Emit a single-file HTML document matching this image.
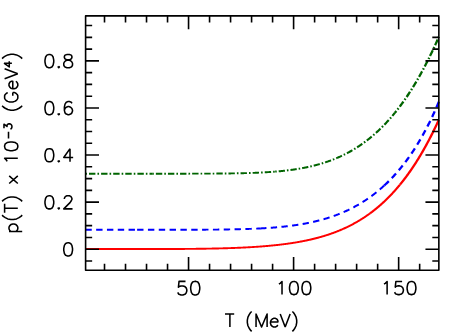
<!DOCTYPE html>
<html><head><meta charset="utf-8"><title>p(T)</title>
<style>html,body{margin:0;padding:0;background:#fff;overflow:hidden;font-family:"Liberation Sans",sans-serif}svg{display:block}</style>
</head><body>
<svg width="463" height="336" viewBox="0 0 463 336" role="img" aria-label="p(T) x 10^-3 (GeV^4) versus T (MeV)">
<title>p(T) x 10^-3 (GeV^4) versus T (MeV)</title>
<desc>Line chart. x axis: T (MeV), ticks 50, 100, 150. y axis: p(T) x 10^-3 (GeV^4), ticks 0, 0.2, 0.4, 0.6, 0.8. Three curves: red solid, blue dashed, green dot-dashed.</desc>
<rect width="463" height="336" fill="#fff"/>
<path d="M85.6 173.7L86.1 173.7L86.6 173.7L87.1 173.7L87.6 173.7L88.1 173.7L88.6 173.7L89.1 173.7L89.6 173.7L90.1 173.7L90.6 173.7L91.1 173.7L91.6 173.7L92.1 173.7L92.6 173.7L93.1 173.7L93.6 173.7L94.1 173.7L94.6 173.7L95.1 173.7L95.6 173.7L96.1 173.7L96.6 173.7L97.1 173.7L97.6 173.7L98.1 173.7L98.6 173.7L99.1 173.7L99.6 173.7L100.1 173.7L100.6 173.7L101.1 173.7L101.6 173.7L102.1 173.7L102.6 173.7L103.1 173.7L103.6 173.7L104.1 173.7L104.6 173.7L105.1 173.7L105.6 173.7L106.1 173.7L106.6 173.7L107.1 173.7L107.6 173.7L108.1 173.7L108.6 173.7L109.1 173.7L109.6 173.7L110.1 173.7L110.6 173.7L111.1 173.7L111.6 173.7L112.1 173.7L112.6 173.7L113.1 173.7L113.6 173.7L114.1 173.7L114.6 173.7L115.1 173.7L115.6 173.7L116.1 173.7L116.6 173.7L117.1 173.7L117.6 173.7L118.1 173.7L118.6 173.7L119.1 173.7L119.6 173.7L120.1 173.7L120.6 173.7L121.1 173.7L121.6 173.7L122.1 173.7L122.6 173.7L123.1 173.7L123.6 173.7L124.1 173.7L124.6 173.7L125.1 173.7L125.6 173.7L126.1 173.7L126.6 173.7L127.1 173.7L127.6 173.7L128.1 173.7L128.6 173.7L129.1 173.7L129.6 173.7L130.1 173.7L130.6 173.7L131.1 173.7L131.6 173.7L132.1 173.7L132.6 173.7L133.1 173.7L133.6 173.7L134.1 173.7L134.6 173.7L135.1 173.7L135.6 173.7L136.1 173.7L136.6 173.7L137.1 173.7L137.6 173.7L138.1 173.7L138.6 173.7L139.1 173.7L139.6 173.7L140.1 173.7L140.6 173.7L141.1 173.7L141.6 173.7L142.1 173.7L142.6 173.7L143.1 173.7L143.6 173.7L144.1 173.7L144.6 173.7L145.1 173.7L145.6 173.7L146.1 173.7L146.6 173.7L147.1 173.7L147.6 173.7L148.1 173.7L148.6 173.7L149.1 173.7L149.6 173.7L150.1 173.7L150.6 173.7L151.1 173.7L151.6 173.7L152.1 173.7L152.25 173.7" fill="none" stroke="#006400" stroke-width="1.90" stroke-dasharray="6.4 2.05 1.6 2.05" stroke-dashoffset="-3.4"/>
<path d="M152.25 173.7L152.6 173.7L153.1 173.7L153.6 173.7L154.1 173.7L154.6 173.7L155.1 173.7L155.6 173.7L156.1 173.7L156.6 173.7L157.1 173.7L157.6 173.7L158.1 173.7L158.6 173.7L159.1 173.7L159.6 173.7L160.1 173.7L160.6 173.7L161.1 173.7L161.6 173.7L162.1 173.7L162.6 173.7L163.1 173.7L163.6 173.7L164.1 173.7L164.6 173.7L165.1 173.7L165.6 173.7L166.1 173.7L166.6 173.69L167.1 173.69L167.6 173.69L168.1 173.69L168.6 173.69L169.1 173.69L169.6 173.69L170.1 173.69L170.6 173.69L171.1 173.69L171.6 173.69L172.1 173.69L172.6 173.69L173.1 173.69L173.6 173.69L174.1 173.69L174.6 173.69L175.1 173.69L175.6 173.69L176.1 173.69L176.6 173.69L177.1 173.69L177.6 173.69L178.1 173.69L178.6 173.69L179.1 173.69L179.6 173.69L180.1 173.69L180.6 173.69L181.1 173.69L181.6 173.68L182.1 173.68L182.6 173.68L183.1 173.68L183.6 173.68L184.1 173.68L184.6 173.68L185.1 173.68L185.6 173.68L186.1 173.68L186.6 173.68L187.1 173.68L187.6 173.68L188.1 173.68L188.6 173.68L189.1 173.68L189.6 173.67L190.1 173.67L190.6 173.67L191.1 173.67L191.6 173.67L192.1 173.67L192.6 173.67L193.1 173.67L193.6 173.67L194.1 173.67L194.6 173.66L195.1 173.66L195.6 173.66L196.1 173.66L196.6 173.66L197.1 173.66L197.6 173.66L198.1 173.66L198.6 173.66L199.1 173.65L199.6 173.65L200.1 173.65L200.6 173.65L201.1 173.65L201.6 173.65L202.1 173.64L202.6 173.64L203.1 173.64L203.6 173.64L204.1 173.64L204.6 173.64L205.1 173.63L205.6 173.63L206.1 173.63L206.6 173.63L207.1 173.63L207.6 173.62L208.1 173.62L208.6 173.62L209.1 173.62L209.6 173.61L210.1 173.61L210.6 173.61L211.1 173.61L211.6 173.6L212.1 173.6L212.6 173.6L213.1 173.6L213.6 173.59L214.1 173.59L214.6 173.59L215.1 173.58L215.6 173.58L216.1 173.58L216.6 173.57L217.1 173.57L217.6 173.56L218.1 173.56L218.6 173.56L219.1 173.55L219.6 173.55L220.1 173.54L220.6 173.54L221.1 173.54L221.6 173.53L222.1 173.53L222.6 173.52L223.1 173.52L223.6 173.51L224.1 173.51L224.6 173.5L225.1 173.5L225.6 173.49L226.1 173.49L226.6 173.48L227.1 173.47L227.6 173.47L228.1 173.46L228.6 173.45L229.1 173.45L229.6 173.44L230.1 173.43L230.6 173.43L231.1 173.42L231.6 173.41L232.1 173.41L232.6 173.4L233.1 173.39L233.6 173.38L234.1 173.37L234.6 173.37L235.1 173.36L235.6 173.35L236.1 173.34L236.6 173.33L237.1 173.32L237.6 173.31L238.1 173.3L238.6 173.29L239.1 173.28L239.6 173.27L240.1 173.26L240.6 173.25L241.1 173.24L241.6 173.23L242.1 173.21L242.6 173.2L243.1 173.19L243.6 173.18L244.1 173.16L244.6 173.15L245.1 173.14L245.6 173.12L246.1 173.11L246.6 173.1L247.1 173.08L247.6 173.07L248.1 173.05L248.6 173.04L249.1 173.02L249.6 173L250.1 172.99L250.6 172.97L251.1 172.95L251.6 172.94L252.1 172.92L252.6 172.9L253.1 172.88L253.6 172.86L254.1 172.85L254.6 172.83L255.1 172.81L255.6 172.79L256.1 172.77L256.6 172.74L257.1 172.72L257.6 172.7L258.1 172.68L258.6 172.66L259.1 172.63L259.6 172.61L260.1 172.58L260.6 172.56L261.1 172.54L261.6 172.51L262.1 172.48L262.6 172.46L263.1 172.43L263.6 172.4L264.1 172.38L264.6 172.35L265.1 172.32L265.6 172.29L266.1 172.26L266.6 172.23L267.1 172.2L267.6 172.17L268.1 172.13L268.6 172.1L269.1 172.07L269.6 172.03L270.1 172L270.6 171.96L271.1 171.93L271.6 171.89L272.1 171.86L272.6 171.82L273.1 171.78L273.6 171.74L274.1 171.7L274.6 171.66L275.1 171.62L275.2 171.61" fill="none" stroke="#006400" stroke-width="1.90" stroke-dasharray="1.6 2.05 6.4 2.05" stroke-dashoffset="0.05"/>
<path d="M275.2 171.61L275.6 171.58L276.1 171.54L276.6 171.5L277.1 171.45L277.6 171.41L278.1 171.36L278.6 171.32L279.1 171.27L279.6 171.22L280.1 171.18L280.6 171.13L281.1 171.08L281.6 171.03L282.1 170.98L282.6 170.93L283.1 170.87L283.6 170.82L284.1 170.77L284.6 170.71L285.1 170.65L285.6 170.6L286.1 170.54L286.6 170.48L287.1 170.42L287.6 170.36L288.1 170.3L288.6 170.24L289.1 170.18L289.6 170.11L290.1 170.05L290.6 169.98L291.1 169.91L291.6 169.85L292.1 169.78L292.6 169.71L293.1 169.64L293.6 169.56L294.1 169.49L294.6 169.42L295.1 169.34L295.6 169.27L296.1 169.19L296.6 169.11L297.1 169.03L297.6 168.95L298.1 168.87L298.6 168.78L299.1 168.7L299.6 168.62L300.1 168.53L300.6 168.44L301.1 168.35L301.6 168.26L302.1 168.17L302.6 168.08L303.1 167.99L303.6 167.89L304.1 167.79L304.6 167.7L305.1 167.6L305.6 167.5L306.1 167.4L306.6 167.29L307.1 167.19L307.6 167.08L308.1 166.98L308.6 166.87L309.1 166.76L309.6 166.65L310.1 166.53L310.6 166.42L311.1 166.3L311.6 166.19L312.1 166.07L312.6 165.95L313.1 165.83L313.6 165.7L314.1 165.58L314.6 165.45L315.1 165.33L315.6 165.2L316.1 165.07L316.6 164.93L317.1 164.8L317.6 164.66L318.1 164.53L318.6 164.39L319.1 164.25L319.6 164.1L320.1 163.96L320.6 163.81L321.1 163.66L321.6 163.52L322.1 163.36L322.6 163.21L323.1 163.06L323.6 162.9L324.1 162.74L324.6 162.58L325.1 162.42L325.6 162.25L326.1 162.09L326.6 161.92L327.1 161.75L327.6 161.58L328.1 161.4L328.6 161.23L329.1 161.05L329.6 160.87L330.1 160.69L330.6 160.5L331.1 160.32L331.6 160.13L332.1 159.94L332.6 159.75L333.1 159.55L333.6 159.35L334.1 159.16L334.6 158.95L335.1 158.75L335.6 158.55L336.1 158.34L336.6 158.13L337.1 157.92L337.6 157.7L338.1 157.48L338.6 157.26L339.1 157.04L339.6 156.82L340.1 156.59L340.6 156.36L341.1 156.13L341.6 155.9L342.1 155.66L342.6 155.42L343.1 155.18L343.6 154.94L344.1 154.69L344.6 154.44L345 154.24" fill="none" stroke="#006400" stroke-width="2.00" stroke-dasharray="1.57 2.0 6.27 2.0" stroke-dashoffset="0.05"/>
<path d="M345 154.24L345.1 154.19L345.6 153.94L346.1 153.68L346.6 153.42L347.1 153.16L347.6 152.9L348.1 152.63L348.6 152.36L349.1 152.09L349.6 151.81L350.1 151.54L350.6 151.25L351.1 150.97L351.6 150.68L352.1 150.4L352.6 150.1L353.1 149.81L353.6 149.51L354.1 149.21L354.6 148.91L355.1 148.6L355.6 148.29L356.1 147.98L356.6 147.66L357.1 147.34L357.6 147.02L358.1 146.7L358.6 146.37L359.1 146.04L359.6 145.7L360.1 145.37L360.6 145.03L361.1 144.68L361.6 144.33L362.1 143.98L362.6 143.63L363.1 143.27L363.6 142.91L364.1 142.55L364.6 142.18L365.1 141.81L365.6 141.44L366.1 141.06L366.6 140.68L367.1 140.3L367.6 139.91L368.1 139.52L368.6 139.13L369.1 138.73L369.6 138.33L370.1 137.92L370.6 137.51L371.1 137.1L371.6 136.68L372.1 136.26L372.6 135.84L373.1 135.41L373.6 134.98L374.1 134.55L374.6 134.11L375.1 133.66L375.6 133.22L376.1 132.77L376.6 132.31L377.1 131.86L377.6 131.39L378.1 130.93L378.6 130.46L379.1 129.98L379.6 129.51L380.1 129.02L380.6 128.54L381.1 128.05L381.6 127.55L382.1 127.05L382.6 126.55L383.1 126.04L383.6 125.53L384.1 125.02L384.6 124.5L385.1 123.97L385.6 123.44L386.1 122.91L386.6 122.37L387.1 121.83L387.6 121.29L388.1 120.74L388.6 120.18L389.1 119.62L389.6 119.06L390.1 118.49L390.6 117.92L391.1 117.34L391.6 116.76L392.1 116.17L392.6 115.58L393.1 114.98L393.6 114.38L394.1 113.77L394.6 113.16L395 112.67" fill="none" stroke="#006400" stroke-width="2.15" stroke-dasharray="1.57 2.0 6.27 2.0" stroke-dashoffset="72.44"/>
<path d="M395 112.67L395.1 112.55L395.6 111.93L396.1 111.3L396.6 110.67L397.1 110.03L397.6 109.39L398.1 108.75L398.6 108.1L399.1 107.44L399.6 106.78L400.1 106.12L400.6 105.45L401.1 104.77L401.6 104.09L402.1 103.41L402.6 102.71L403.1 102.02L403.6 101.32L404.1 100.61L404.6 99.9L405.1 99.18L405.6 98.46L406.1 97.73L406.6 96.99L407.1 96.26L407.6 95.51L408.1 94.76L408.6 94L409.1 93.24L409.6 92.48L410.1 91.7L410.6 90.92L411.1 90.14L411.6 89.35L412.1 88.56L412.6 87.75L413.1 86.95L413.6 86.13L414.1 85.32L414.6 84.49L415.1 83.66L415.6 82.82L416.1 81.98L416.6 81.13L417.1 80.28L417.6 79.42L418.1 78.55L418.6 77.68L419.1 76.8L419.6 75.91L420.1 75.02L420.6 74.12L421.1 73.22L421.6 72.31L422.1 71.39L422.6 70.47L423.1 69.54L423.6 68.6L424.1 67.66L424.6 66.71L425.1 65.76L425.6 64.8L426.1 63.83L426.6 62.85L427.1 61.87L427.6 60.88L428.1 59.89L428.6 58.89L429.1 57.88L429.6 56.86L430.1 55.84L430.6 54.81L431.1 53.78L431.6 52.73L432.1 51.68L432.6 50.63L433.1 49.56L433.6 48.49L434.1 47.42L434.6 46.33L435.1 45.24L435.6 44.14L436.1 43.03L436.6 41.92L437.1 40.8L437.6 39.67L438.1 38.54L438.6 37.39L438.85 36.82" fill="none" stroke="#006400" stroke-width="2.30" stroke-dasharray="1.57 2.0 6.27 2.0" stroke-dashoffset="137.97"/>
<path d="M85.6 229.8L86.1 229.8L86.6 229.8L87.1 229.8L87.6 229.8L88.1 229.8L88.6 229.8L89.1 229.8L89.6 229.8L90.1 229.8L90.6 229.8L91.1 229.8L91.6 229.8L92.1 229.8L92.6 229.8L93.1 229.8L93.6 229.8L94.1 229.8L94.6 229.8L95.1 229.8L95.6 229.8L96.1 229.8L96.6 229.8L97.1 229.8L97.6 229.8L98.1 229.8L98.6 229.8L99.1 229.8L99.6 229.8L100.1 229.8L100.6 229.8L101.1 229.8L101.6 229.8L102.1 229.8L102.6 229.8L103.1 229.8L103.6 229.8L104.1 229.8L104.6 229.8L105.1 229.8L105.6 229.8L106.1 229.8L106.6 229.8L107.1 229.8L107.6 229.8L108.1 229.8L108.6 229.8L109.1 229.8L109.6 229.8L110.1 229.8L110.6 229.8L111.1 229.8L111.6 229.8L112.1 229.8L112.6 229.8L113.1 229.8L113.6 229.8L114.1 229.8L114.6 229.8L115.1 229.8L115.6 229.8L116.1 229.8L116.6 229.8L117.1 229.8L117.6 229.8L118.1 229.8L118.6 229.8L119.1 229.8L119.6 229.8L120.1 229.8L120.6 229.8L121.1 229.8L121.6 229.8L122.1 229.8L122.6 229.8L123.1 229.8L123.6 229.8L124.1 229.8L124.6 229.8L125.1 229.8L125.6 229.8L126.1 229.8L126.6 229.8L127.1 229.8L127.6 229.8L128.1 229.8L128.6 229.8L129.1 229.8L129.6 229.8L130.1 229.8L130.6 229.8L131.1 229.8L131.6 229.8L132.1 229.8L132.6 229.8L133.1 229.8L133.6 229.8L134.1 229.8L134.6 229.8L135.1 229.8L135.6 229.8L136.1 229.8L136.6 229.8L137.1 229.8" fill="none" stroke="#0000ff" stroke-width="1.90" stroke-dasharray="6.4 4.4" stroke-dashoffset="0.25"/>
<path d="M137.1 229.8L137.6 229.8L138.1 229.8L138.6 229.8L139.1 229.8L139.6 229.8L140.1 229.8L140.6 229.8L141.1 229.8L141.6 229.8L142.1 229.8L142.6 229.8L143.1 229.8L143.6 229.8L144.1 229.8L144.6 229.8L145.1 229.8L145.6 229.8L146.1 229.8L146.6 229.8L147.1 229.8L147.6 229.8L148.1 229.8L148.6 229.8L149.1 229.8L149.6 229.8L150.1 229.8L150.6 229.8L151.1 229.8L151.6 229.8L152.1 229.8L152.6 229.8L153.1 229.8L153.6 229.8L154.1 229.8L154.6 229.8L155.1 229.8L155.6 229.8L156.1 229.8L156.6 229.8L157.1 229.79L157.6 229.79L158.1 229.79L158.6 229.79L159.1 229.79L159.6 229.79L160.1 229.79L160.6 229.79L161.1 229.79L161.6 229.79L162.1 229.79L162.6 229.79L163.1 229.79L163.6 229.79L164.1 229.79L164.6 229.79L165.1 229.79L165.6 229.79L166.1 229.79L166.6 229.79L167.1 229.79L167.6 229.79L168.1 229.79L168.6 229.79L169.1 229.79L169.6 229.79L170.1 229.79L170.6 229.78L171.1 229.78L171.6 229.78L172.1 229.78L172.6 229.78L173.1 229.78L173.6 229.78L174.1 229.78L174.6 229.78L175.1 229.78L175.6 229.78L176.1 229.78L176.6 229.78L177.1 229.78L177.6 229.78L178.1 229.77L178.6 229.77L179.1 229.77L179.6 229.77L180.1 229.77L180.6 229.77L181.1 229.77L181.6 229.77L182.1 229.77L182.6 229.77L183.1 229.76L183.6 229.76L184.1 229.76L184.6 229.76L185.1 229.76L185.6 229.76L186.1 229.76L186.6 229.76L187.1 229.75L187.6 229.75L188.1 229.75L188.6 229.75L189.1 229.75L189.6 229.75L190.1 229.75L190.6 229.74L191.1 229.74L191.6 229.74L192.1 229.74L192.6 229.74L193.1 229.74L193.6 229.73L194.1 229.73L194.6 229.73L195.1 229.73L195.6 229.73L196.1 229.72L196.6 229.72L197.1 229.72L197.6 229.72L198.1 229.72L198.6 229.71L199.1 229.71L199.6 229.71L200.1 229.71L200.6 229.7L201.1 229.7L201.6 229.7L202.1 229.7L202.6 229.69L203.1 229.69L203.6 229.69L204.1 229.68L204.6 229.68L205.1 229.68L205.6 229.68L206.1 229.67L206.6 229.67L207.1 229.67L207.6 229.66L208.1 229.66L208.6 229.66L209.1 229.65L209.6 229.65L210.1 229.64L210.6 229.64L211.1 229.64L211.6 229.63L212.1 229.63L212.6 229.62L213.1 229.62L213.6 229.61L214.1 229.61L214.6 229.61L215.1 229.6L215.6 229.6L216.1 229.59L216.6 229.59L217.1 229.58L217.6 229.58L218.1 229.57L218.6 229.56L219.1 229.56L219.6 229.55L220.1 229.55L220.6 229.54L221.1 229.54L221.6 229.53L222.1 229.52L222.6 229.52L223.1 229.51L223.6 229.5L224.1 229.5L224.6 229.49L225.1 229.48L225.6 229.47L226.1 229.47L226.6 229.46L227.1 229.45L227.6 229.44L228.1 229.44L228.6 229.43L229.1 229.42L229.6 229.41L230.1 229.4L230.6 229.39L231.1 229.38L231.6 229.37L232.1 229.37L232.6 229.36L233.1 229.35L233.6 229.34L234.1 229.33L234.6 229.32L235.1 229.3L235.6 229.29L236.1 229.28L236.6 229.27L237.1 229.26L237.6 229.25L238.1 229.24L238.6 229.22L239.1 229.21L239.6 229.2L240.1 229.19L240.6 229.17L241.1 229.16L241.6 229.15L242.1 229.13L242.6 229.12L243.1 229.1L243.6 229.09L244.1 229.08L244.6 229.06L245.1 229.04L245.6 229.03L246.1 229.01L246.6 229L247.1 228.98L247.6 228.96L248.1 228.95L248.6 228.93L249.1 228.91L249.6 228.89L250.1 228.87L250.6 228.86L251.1 228.84L251.6 228.82L252.1 228.8L252.6 228.78L253.1 228.76L253.6 228.74L254.1 228.72L254.6 228.69L255.1 228.67L255.6 228.65L256.1 228.63L256.6 228.6L257.1 228.58L257.6 228.56L258.1 228.53L258.6 228.51L259.1 228.48L259.6 228.46L260.1 228.43" fill="none" stroke="#0000ff" stroke-width="1.90" stroke-dasharray="6.4 4.43" stroke-dashoffset="0"/>
<path d="M260.1 228.43L260.6 228.41L261.1 228.38L261.6 228.35L262.1 228.33L262.6 228.3L263.1 228.27L263.6 228.24L264.1 228.21L264.6 228.18L265.1 228.15L265.6 228.12L266.1 228.09L266.6 228.06L267.1 228.02L267.6 227.99L268.1 227.96L268.6 227.93L269.1 227.89L269.6 227.86L270.1 227.82L270.6 227.78L271.1 227.75L271.6 227.71L272.1 227.67L272.6 227.64L273.1 227.6L273.6 227.56L274.1 227.52L274.6 227.48L275.1 227.44L275.6 227.39L276.1 227.35L276.6 227.31L277.1 227.27L277.6 227.22L278.1 227.18L278.6 227.13L279.1 227.08L279.6 227.04L280.1 226.99L280.6 226.94L281.1 226.89L281.6 226.84L282.1 226.79L282.6 226.74L283.1 226.69L283.6 226.64L284.1 226.58L284.6 226.53L285.1 226.47L285.6 226.42L286.1 226.36L286.6 226.31L287.1 226.25L287.6 226.19L288.1 226.13L288.6 226.07L289.1 226.01L289.6 225.95L290.1 225.88L290.6 225.82L291.1 225.75L291.6 225.69L292.1 225.62L292.6 225.55L293.1 225.49L293.6 225.42L294.1 225.35L294.6 225.28L295.1 225.21L295.6 225.13L296.1 225.06L296.6 224.98L297.1 224.91L297.6 224.83L298.1 224.75L298.6 224.68L299.1 224.6L299.6 224.52L300.1 224.43L300.6 224.35L301.1 224.27L301.6 224.18L302.1 224.1L302.6 224.01L303.1 223.92L303.6 223.83L304.1 223.74L304.6 223.65L305.1 223.56L305.6 223.46L306.1 223.37L306.6 223.27L307.1 223.18L307.6 223.08L308.1 222.98L308.6 222.88L309.1 222.78L309.6 222.67L310.1 222.57L310.6 222.46L311.1 222.36L311.6 222.25L312.1 222.14L312.6 222.03L313.1 221.91L313.6 221.8L314.1 221.69L314.6 221.57L315.1 221.45L315.6 221.33L316.1 221.21L316.6 221.09L317.1 220.97L317.6 220.84L318.1 220.72L318.6 220.59L319.1 220.46L319.6 220.33L320.1 220.2L320.6 220.07L321.1 219.93L321.6 219.8L322.1 219.66L322.6 219.52L323.1 219.38L323.6 219.24L324.1 219.09L324.6 218.95L325.1 218.8L325.6 218.65L326.1 218.5L326.6 218.35L327.1 218.19L327.6 218.04L328.1 217.88L328.6 217.72L329.1 217.56L329.6 217.4L330.1 217.24L330.6 217.07L331.1 216.9L331.6 216.73L332.1 216.56L332.6 216.39L333.1 216.21L333.6 216.04L334.1 215.86L334.6 215.68L335.1 215.5L335.6 215.31L336.1 215.13L336.6 214.94L337.1 214.75L337.6 214.56L338.1 214.36L338.6 214.17L339.1 213.97L339.6 213.77L340.1 213.57L340.6 213.36L341.1 213.16L341.6 212.95L342.1 212.74L342.6 212.53L343.1 212.31L343.6 212.1L344.1 211.88L344.6 211.66L345.1 211.43L345.6 211.21L346.1 210.98L346.6 210.75L347.1 210.52L347.6 210.28L348.1 210.05L348.6 209.81L349.1 209.57L349.6 209.32L350.1 209.08L350.6 208.83L351.1 208.58L351.6 208.32L352.1 208.07L352.6 207.81L353.1 207.55L353.6 207.29L354.1 207.02L354.6 206.75L355.1 206.48L355.6 206.21L356.1 205.93L356.6 205.65L357.1 205.37L357.6 205.09L358.1 204.8L358.6 204.51L359.1 204.22L359.6 203.92L360.1 203.63L360.6 203.33L361.1 203.02L361.6 202.72L362.1 202.41L362.6 202.1L363.1 201.78L363.6 201.46L364.1 201.14L364.6 200.82L365.1 200.49L365.6 200.17L366.1 199.83L366.6 199.5L367.1 199.16L367.6 198.82L368.1 198.47L368.6 198.13L369.1 197.77L369.6 197.42L370.1 197.06L370.6 196.7L371.1 196.34L371.6 195.97L372.1 195.6L372.6 195.23L373.1 194.85L373.6 194.47L374.1 194.09L374.6 193.7L375.1 193.31L375.6 192.91L376.1 192.52L376.6 192.12L377.1 191.71L377.6 191.3L378.1 190.89L378.6 190.47L379.1 190.06L379.6 189.63L380.1 189.21L380.6 188.78L381.1 188.34L381.6 187.9L382.1 187.46L382.6 187.02L383.1 186.57L383.6 186.11L384.1 185.66L384.3 185.47" fill="none" stroke="#0000ff" stroke-width="2.00" stroke-dasharray="6.35 4.35" stroke-dashoffset="0"/>
<path d="M384.3 185.47L384.6 185.19L385.1 184.73L385.6 184.26L386.1 183.78L386.6 183.31L387.1 182.82L387.6 182.34L388.1 181.85L388.6 181.35L389.1 180.85L389.6 180.35L390.1 179.84L390.6 179.33L391.1 178.82L391.6 178.29L392.1 177.77L392.6 177.24L393.1 176.7L393.6 176.17L394.1 175.62L394.6 175.07L395.1 174.52L395.6 173.96L396.1 173.4L396.6 172.83L397.1 172.26L397.6 171.68L398.1 171.1L398.6 170.51L399.1 169.92L399.6 169.32L400.1 168.72L400.6 168.11L401.1 167.5L401.6 166.88L402.1 166.25L402.6 165.62L403.1 164.99L403.6 164.35L404.1 163.7L404.6 163.05L405.1 162.4L405.6 161.73L406.1 161.07L406.6 160.39L407.1 159.71L407.6 159.03L408.1 158.34L408.6 157.64L409.1 156.93L409.6 156.22L410.1 155.51L410.6 154.79L411.1 154.06L411.6 153.32L412.1 152.58L412.6 151.84L413.1 151.08L413.6 150.32L414.1 149.56L414.6 148.78L415.1 148L415.6 147.21L416.1 146.42L416.6 145.62L417.1 144.81L417.6 144L418.1 143.18L418.6 142.35L419.1 141.51L419.6 140.67L420.1 139.82L420.6 138.96L421.1 138.09L421.6 137.22L422.1 136.34L422.6 135.45L423.1 134.55L423.6 133.64L424.1 132.73L424.6 131.81L425.1 130.88L425.6 129.94L426.1 129L426.6 128.04L427.1 127.08L427.6 126.11L428.1 125.13L428.6 124.14L429.1 123.15L429.6 122.14L430.1 121.12L430.6 120.1L431.1 119.07L431.6 118.02L432.1 116.97L432.6 115.91L433.1 114.84L433.6 113.76L434.1 112.67L434.6 111.56L435.1 110.45L435.6 109.33L436.1 108.2L436.6 107.06L437.1 105.91L437.6 104.75L438.1 103.57L438.6 102.39L438.85 101.79" fill="none" stroke="#0000ff" stroke-width="2.30" stroke-dasharray="6.2 4.3" stroke-dashoffset="0"/>
<path d="M85.6 249.05L86.1 249.05L86.6 249.05L87.1 249.05L87.6 249.05L88.1 249.05L88.6 249.05L89.1 249.05L89.6 249.05L90.1 249.05L90.6 249.05L91.1 249.05L91.6 249.05L92.1 249.05L92.6 249.05L93.1 249.05L93.6 249.05L94.1 249.05L94.6 249.05L95.1 249.05L95.6 249.05L96.1 249.05L96.6 249.05L97.1 249.05L97.6 249.05L98.1 249.05L98.6 249.05L99.1 249.05L99.6 249.05L100.1 249.05L100.6 249.05L101.1 249.05L101.6 249.05L102.1 249.05L102.6 249.05L103.1 249.05L103.6 249.05L104.1 249.05L104.6 249.05L105.1 249.05L105.6 249.05L106.1 249.05L106.6 249.05L107.1 249.05L107.6 249.05L108.1 249.05L108.6 249.05L109.1 249.05L109.6 249.05L110.1 249.05L110.6 249.05L111.1 249.05L111.6 249.05L112.1 249.05L112.6 249.05L113.1 249.05L113.6 249.05L114.1 249.05L114.6 249.05L115.1 249.05L115.6 249.05L116.1 249.05L116.6 249.05L117.1 249.05L117.6 249.05L118.1 249.05L118.6 249.05L119.1 249.05L119.6 249.05L120.1 249.05L120.6 249.05L121.1 249.05L121.6 249.05L122.1 249.05L122.6 249.05L123.1 249.05L123.6 249.05L124.1 249.05L124.6 249.05L125.1 249.05L125.6 249.05L126.1 249.05L126.6 249.05L127.1 249.05L127.6 249.05L128.1 249.05L128.6 249.05L129.1 249.05L129.6 249.05L130.1 249.05L130.6 249.05L131.1 249.05L131.6 249.05L132.1 249.05L132.6 249.05L133.1 249.05L133.6 249.05L134.1 249.05L134.6 249.05L135.1 249.05L135.6 249.05L136.1 249.05L136.6 249.05L137.1 249.05L137.6 249.05L138.1 249.05L138.6 249.05L139.1 249.05L139.6 249.05L140.1 249.05L140.6 249.05L141.1 249.05L141.6 249.05L142.1 249.05L142.6 249.05L143.1 249.05L143.6 249.05L144.1 249.05L144.6 249.05L145.1 249.05L145.6 249.05L146.1 249.04L146.6 249.04L147.1 249.04L147.6 249.04L148.1 249.04L148.6 249.04L149.1 249.04L149.6 249.04L150.1 249.04L150.6 249.04L151.1 249.04L151.6 249.04L152.1 249.04L152.6 249.04L153.1 249.04L153.6 249.04L154.1 249.04L154.6 249.04L155.1 249.04L155.6 249.04L156.1 249.03L156.6 249.03L157.1 249.03L157.6 249.03L158.1 249.03L158.6 249.03L159.1 249.03L159.6 249.03L160.1 249.03L160.6 249.03L161.1 249.03L161.6 249.03L162.1 249.02L162.6 249.02L163.1 249.02L163.6 249.02L164.1 249.02L164.6 249.02L165.1 249.02L165.6 249.02L166.1 249.01L166.6 249.01L167.1 249.01L167.6 249.01L168.1 249.01L168.6 249.01L169.1 249.01L169.6 249L170.1 249L170.6 249L171.1 249L171.6 249L172.1 248.99L172.6 248.99L173.1 248.99L173.6 248.99L174.1 248.99L174.6 248.98L175.1 248.98L175.6 248.98L176.1 248.98L176.6 248.97L177.1 248.97L177.6 248.97L178.1 248.97L178.6 248.96L179.1 248.96L179.6 248.96L180.1 248.96L180.6 248.95L181.1 248.95L181.6 248.95L182.1 248.94L182.6 248.94L183.1 248.94L183.6 248.93L184.1 248.93L184.6 248.93L185.1 248.92L185.6 248.92L186.1 248.92L186.6 248.91L187.1 248.91L187.6 248.9L188.1 248.9L188.6 248.9L189.1 248.89L189.6 248.89L190.1 248.88L190.6 248.88L191.1 248.87L191.6 248.87L192.1 248.86L192.6 248.86L193.1 248.85L193.6 248.85L194.1 248.84L194.6 248.84L195.1 248.83L195.6 248.83L196.1 248.82L196.6 248.81L197.1 248.81L197.6 248.8L198.1 248.8L198.6 248.79L199.1 248.78L199.6 248.78L200.1 248.77L200.6 248.76L201.1 248.76L201.6 248.75L202.1 248.74L202.6 248.74L203.1 248.73L203.6 248.72L204.1 248.71L204.6 248.71L205.1 248.7L205.6 248.69L206.1 248.68L206.6 248.67L207.1 248.67L207.6 248.66L208.1 248.65L208.6 248.64L209.1 248.63L209.6 248.62L210.1 248.61L210.6 248.6L211.1 248.59L211.6 248.58L212.1 248.57L212.6 248.56L213.1 248.55L213.6 248.54L214.1 248.53L214.6 248.52L215.1 248.51L215.6 248.5L216.1 248.49L216.6 248.48L217.1 248.47L217.6 248.45L218.1 248.44L218.6 248.43L219.1 248.42L219.6 248.41L220.1 248.39L220.6 248.38L221.1 248.37L221.6 248.35L222.1 248.34L222.6 248.33L223.1 248.31L223.6 248.3L224.1 248.28L224.6 248.27L225.1 248.26L225.6 248.24L226.1 248.23L226.6 248.21L227.1 248.19L227.6 248.18L228.1 248.16L228.6 248.15L229.1 248.13L229.6 248.11L230.1 248.1L230.6 248.08L231.1 248.06L231.6 248.04L232.1 248.03L232.6 248.01L233.1 247.99L233.6 247.97L234.1 247.95L234.6 247.93L235.1 247.91L235.6 247.89L236.1 247.87L236.6 247.85L237.1 247.83L237.6 247.81L238.1 247.79L238.6 247.77L239.1 247.75L239.6 247.73L240.1 247.71L240.6 247.68L241.1 247.66L241.6 247.64L242.1 247.61L242.6 247.59L243.1 247.57L243.6 247.54L244.1 247.52L244.6 247.49L245.1 247.47L245.6 247.44L246.1 247.42L246.6 247.39L247.1 247.36L247.6 247.34L248.1 247.31L248.6 247.28L249.1 247.25L249.6 247.23L250.1 247.2L250.6 247.17L251.1 247.14L251.6 247.11L252.1 247.08L252.6 247.05L253.1 247.02L253.6 246.99L254.1 246.96L254.6 246.92L255.1 246.89L255.6 246.86L256.1 246.83L256.6 246.79L257.1 246.76L257.6 246.72L258.1 246.69L258.6 246.65L259.1 246.62L259.6 246.58L260.1 246.54L260.6 246.51L261.1 246.47L261.6 246.43L262.1 246.39L262.6 246.35L263.1 246.32L263.6 246.28L264.1 246.24L264.6 246.19L265.1 246.15L265.6 246.11L266.1 246.07L266.6 246.03L267.1 245.98L267.6 245.94L268.1 245.9L268.6 245.85L269.1 245.81L269.6 245.76L270.1 245.71L270.6 245.67L271.1 245.62L271.6 245.57L272.1 245.52L272.6 245.47L273.1 245.42L273.6 245.37L274.1 245.32L274.6 245.27L275.1 245.22L275.6 245.17L276.1 245.11L276.6 245.06L277.1 245L277.6 244.95L278.1 244.89L278.6 244.84L279.1 244.78L279.6 244.72L280.1 244.66L280.6 244.6L281.1 244.54L281.6 244.48L282.1 244.42L282.6 244.36L283.1 244.3L283.6 244.23L284.1 244.17L284.6 244.11L285.1 244.04L285.6 243.97L286.1 243.91L286.6 243.84L287.1 243.77L287.6 243.7L288.1 243.63L288.6 243.56L289.1 243.49L289.6 243.42L290.1 243.34L290.6 243.27L291.1 243.19L291.6 243.12L292.1 243.04L292.6 242.96L293.1 242.89L293.6 242.81L294.1 242.73L294.6 242.65L295.1 242.56L295.6 242.48L296.1 242.4L296.6 242.31L297.1 242.23L297.6 242.14L298.1 242.05L298.6 241.97L299.1 241.88L299.6 241.79L300 241.71" fill="none" stroke="#ff0000" stroke-width="1.90"/>
<path d="M300 241.71L300.1 241.7L300.6 241.6L301.1 241.51L301.6 241.42L302.1 241.32L302.6 241.22L303.1 241.13L303.6 241.03L304.1 240.93L304.6 240.83L305.1 240.73L305.6 240.62L306.1 240.52L306.6 240.42L307.1 240.31L307.6 240.2L308.1 240.09L308.6 239.98L309.1 239.87L309.6 239.76L310.1 239.65L310.6 239.53L311.1 239.42L311.6 239.3L312.1 239.18L312.6 239.06L313.1 238.94L313.6 238.82L314.1 238.7L314.6 238.58L315.1 238.45L315.6 238.32L316.1 238.19L316.6 238.06L317.1 237.93L317.6 237.8L318.1 237.67L318.6 237.53L319.1 237.4L319.6 237.26L320.1 237.12L320.6 236.98L321.1 236.84L321.6 236.69L322.1 236.55L322.6 236.4L323.1 236.25L323.6 236.1L324.1 235.95L324.6 235.8L325.1 235.64L325.6 235.49L326.1 235.33L326.6 235.17L327.1 235.01L327.6 234.85L328.1 234.68L328.6 234.52L329.1 234.35L329.6 234.18L330.1 234.01L330.6 233.84L331.1 233.66L331.6 233.49L332.1 233.31L332.6 233.13L333.1 232.95L333.6 232.76L334.1 232.58L334.6 232.39L335.1 232.2L335.6 232.01L336.1 231.82L336.6 231.63L337.1 231.43L337.6 231.23L338.1 231.03L338.6 230.83L339.1 230.62L339.6 230.42L340.1 230.21L340.6 230L341.1 229.79L341.6 229.57L342.1 229.35L342.6 229.14L343.1 228.92L343.6 228.69L344.1 228.47L344.6 228.24L345.1 228.01L345.6 227.78L346.1 227.54L346.6 227.31L347.1 227.07L347.6 226.83L348.1 226.59L348.6 226.34L349.1 226.09L349.6 225.84L350.1 225.59L350.6 225.33L351.1 225.08L351.6 224.82L352.1 224.56L352.6 224.29L353.1 224.02L353.6 223.75L354.1 223.48L354.6 223.21L355.1 222.93L355.6 222.65L356.1 222.37L356.6 222.08L357.1 221.79L357.6 221.5L358.1 221.21L358.6 220.91L359.1 220.61L359.6 220.31L360.1 220.01L360.6 219.7L361.1 219.39L361.6 219.08L362.1 218.76L362.6 218.44L363.1 218.12L363.6 217.8L364.1 217.47L364.6 217.14L365.1 216.8L365.6 216.47L366.1 216.13L366.6 215.79L367.1 215.44L367.6 215.09L368.1 214.74L368.6 214.38L369.1 214.03L369.6 213.66L370 213.37" fill="none" stroke="#ff0000" stroke-width="2.00"/>
<path d="M370 213.37L370.1 213.3L370.6 212.93L371.1 212.56L371.6 212.18L372.1 211.81L372.6 211.42L373.1 211.04L373.6 210.65L374.1 210.26L374.6 209.86L375.1 209.47L375.6 209.06L376.1 208.66L376.6 208.25L377.1 207.84L377.6 207.42L378.1 207L378.6 206.58L379.1 206.15L379.6 205.72L380.1 205.28L380.6 204.84L381.1 204.4L381.6 203.96L382.1 203.51L382.6 203.05L383.1 202.59L383.6 202.13L384.1 201.67L384.6 201.2L385.1 200.72L385.6 200.24L386.1 199.76L386.6 199.28L387.1 198.79L387.6 198.29L388.1 197.79L388.6 197.29L389.1 196.78L389.6 196.27L390.1 195.76L390.6 195.24L391.1 194.71L391.6 194.19L392.1 193.65L392.6 193.12L393.1 192.57L393.6 192.03L394.1 191.48L394.6 190.92L395.1 190.36L395.6 189.8L396.1 189.23L396.6 188.65L397.1 188.08L397.6 187.49L398.1 186.9L398.6 186.31L399.1 185.71L399.6 185.11L400 184.63" fill="none" stroke="#ff0000" stroke-width="2.15"/>
<path d="M400 184.63L400.1 184.5L400.6 183.89L401.1 183.27L401.6 182.65L402.1 182.02L402.6 181.39L403.1 180.75L403.6 180.11L404.1 179.46L404.6 178.81L405.1 178.15L405.6 177.49L406.1 176.82L406.6 176.15L407.1 175.47L407.6 174.78L408.1 174.09L408.6 173.4L409.1 172.69L409.6 171.99L410.1 171.28L410.6 170.56L411.1 169.83L411.6 169.11L412.1 168.37L412.6 167.63L413.1 166.88L413.6 166.13L414.1 165.37L414.6 164.61L415.1 163.84L415.6 163.06L416.1 162.28L416.6 161.5L417.1 160.7L417.6 159.9L418.1 159.1L418.6 158.28L419.1 157.47L419.6 156.64L420.1 155.81L420.6 154.97L421.1 154.13L421.6 153.28L422.1 152.42L422.6 151.56L423.1 150.69L423.6 149.82L424.1 148.93L424.6 148.04L425.1 147.15L425.6 146.25L426.1 145.34L426.6 144.42L427.1 143.5L427.6 142.57L428.1 141.63L428.6 140.69L429.1 139.74L429.6 138.78L430.1 137.82L430.6 136.85L431.1 135.87L431.6 134.88L432.1 133.89L432.6 132.89L433.1 131.88L433.6 130.87L434.1 129.85L434.6 128.82L435.1 127.78L435.6 126.74L436.1 125.68L436.6 124.62L437.1 123.56L437.6 122.48L438.1 121.4L438.6 120.31L438.85 119.76" fill="none" stroke="#ff0000" stroke-width="2.30"/>
<path d="M104.51 270.3v-6.55M104.51 15.9v6.55M125.52 270.3v-6.55M125.52 15.9v6.55M146.53 270.3v-6.55M146.53 15.9v6.55M167.54 270.3v-6.55M167.54 15.9v6.55M188.55 270.3v-13.4M188.55 15.9v13.4M209.56 270.3v-6.55M209.56 15.9v6.55M230.57 270.3v-6.55M230.57 15.9v6.55M251.58 270.3v-6.55M251.58 15.9v6.55M272.59 270.3v-6.55M272.59 15.9v6.55M293.6 270.3v-13.4M293.6 15.9v13.4M314.61 270.3v-6.55M314.61 15.9v6.55M335.62 270.3v-6.55M335.62 15.9v6.55M356.63 270.3v-6.55M356.63 15.9v6.55M377.64 270.3v-6.55M377.64 15.9v6.55M398.65 270.3v-13.4M398.65 15.9v13.4M419.66 270.3v-6.55M419.66 15.9v6.55M85.6 260.97h6.55M438.85 260.97h-6.55M85.6 249.2h13.4M438.85 249.2h-13.4M85.6 237.43h6.55M438.85 237.43h-6.55M85.6 225.66h6.55M438.85 225.66h-6.55M85.6 213.89h6.55M438.85 213.89h-6.55M85.6 202.12h13.4M438.85 202.12h-13.4M85.6 190.35h6.55M438.85 190.35h-6.55M85.6 178.58h6.55M438.85 178.58h-6.55M85.6 166.81h6.55M438.85 166.81h-6.55M85.6 155.04h13.4M438.85 155.04h-13.4M85.6 143.27h6.55M438.85 143.27h-6.55M85.6 131.5h6.55M438.85 131.5h-6.55M85.6 119.73h6.55M438.85 119.73h-6.55M85.6 107.96h13.4M438.85 107.96h-13.4M85.6 96.19h6.55M438.85 96.19h-6.55M85.6 84.42h6.55M438.85 84.42h-6.55M85.6 72.65h6.55M438.85 72.65h-6.55M85.6 60.88h13.4M438.85 60.88h-13.4M85.6 49.11h6.55M438.85 49.11h-6.55M85.6 37.34h6.55M438.85 37.34h-6.55M85.6 25.57h6.55M438.85 25.57h-6.55" fill="none" stroke="#000" stroke-width="1.60" stroke-linecap="butt"/>
<rect x="85.6" y="15.9" width="353.25" height="254.4" fill="none" stroke="#000" stroke-width="1.60" stroke-linejoin="round"/>
<path d="M185.51 281.39L179.04 281.39L178.4 287.22L179.04 286.58L180.98 285.93L182.93 285.93L184.87 286.58L186.16 287.87L186.81 289.82L186.81 291.11L186.16 293.06L184.87 294.35L182.93 295L180.98 295L179.04 294.35L178.4 293.7L177.75 292.41M194.57 281.39L192.63 282.04L191.34 283.98L190.69 287.22L190.69 289.17L191.34 292.41L192.63 294.35L194.57 295L195.87 295L197.81 294.35L199.1 292.41L199.75 289.17L199.75 287.22L199.1 283.98L197.81 282.04L195.87 281.39L194.57 281.39M278.9 283.99L280.15 283.37L282.02 281.5L282.02 294.6M293.27 281.5L291.4 282.12L290.15 283.99L289.52 287.11L289.52 288.98L290.15 292.1L291.4 293.98L293.27 294.6L294.52 294.6L296.4 293.98L297.65 292.1L298.27 288.98L298.27 287.11L297.65 283.99L296.4 282.12L294.52 281.5L293.27 281.5M305.77 281.5L303.9 282.12L302.65 283.99L302.02 287.11L302.02 288.98L302.65 292.1L303.9 293.98L305.77 294.6L307.02 294.6L308.9 293.98L310.15 292.1L310.77 288.98L310.77 287.11L310.15 283.99L308.9 282.12L307.02 281.5L305.77 281.5M384 283.99L385.25 283.37L387.12 281.5L387.12 294.6M402.12 281.5L395.87 281.5L395.25 287.11L395.87 286.49L397.75 285.86L399.62 285.86L401.5 286.49L402.75 287.74L403.37 289.61L403.37 290.86L402.75 292.73L401.5 293.98L399.62 294.6L397.75 294.6L395.87 293.98L395.25 293.35L394.62 292.1M410.87 281.5L409 282.12L407.75 283.99L407.12 287.11L407.12 288.98L407.75 292.1L409 293.98L410.87 294.6L412.12 294.6L414 293.98L415.25 292.1L415.87 288.98L415.87 287.11L415.25 283.99L414 282.12L412.12 281.5L410.87 281.5M67.51 242.83L65.64 243.45L64.38 245.33L63.76 248.46L63.76 250.34L64.38 253.47L65.64 255.35L67.51 255.97L68.77 255.97L70.64 255.35L71.9 253.47L72.52 250.34L72.52 248.46L71.9 245.33L70.64 243.45L68.77 242.83L67.51 242.83M48.73 195.75L46.86 196.37L45.6 198.25L44.98 201.38L44.98 203.26L45.6 206.39L46.86 208.27L48.73 208.89L49.99 208.89L51.86 208.27L53.12 206.39L53.74 203.26L53.74 201.38L53.12 198.25L51.86 196.37L49.99 195.75L48.73 195.75M58.75 207.64L58.12 208.27L58.75 208.89L59.38 208.27L58.75 207.64M64.38 198.88L64.38 198.25L65.01 197L65.64 196.37L66.89 195.75L69.39 195.75L70.64 196.37L71.27 197L71.9 198.25L71.9 199.5L71.27 200.75L70.02 202.63L63.76 208.89L72.52 208.89M48.73 148.67L46.86 149.29L45.6 151.17L44.98 154.3L44.98 156.18L45.6 159.31L46.86 161.19L48.73 161.81L49.99 161.81L51.86 161.19L53.12 159.31L53.74 156.18L53.74 154.3L53.12 151.17L51.86 149.29L49.99 148.67L48.73 148.67M58.75 160.56L58.12 161.19L58.75 161.81L59.38 161.19L58.75 160.56M70.02 148.67L63.76 157.43L73.15 157.43M70.02 148.67L70.02 161.81M48.73 101.59L46.86 102.21L45.6 104.09L44.98 107.22L44.98 109.1L45.6 112.23L46.86 114.11L48.73 114.73L49.99 114.73L51.86 114.11L53.12 112.23L53.74 109.1L53.74 107.22L53.12 104.09L51.86 102.21L49.99 101.59L48.73 101.59M58.75 113.48L58.12 114.11L58.75 114.73L59.38 114.11L58.75 113.48M71.9 103.46L71.27 102.21L69.39 101.59L68.14 101.59L66.26 102.21L65.01 104.09L64.38 107.22L64.38 110.35L65.01 112.85L66.26 114.11L68.14 114.73L68.77 114.73L70.64 114.11L71.9 112.85L72.52 110.98L72.52 110.35L71.9 108.47L70.64 107.22L68.77 106.59L68.14 106.59L66.26 107.22L65.01 108.47L64.38 110.35M48.73 54.51L46.86 55.13L45.6 57.01L44.98 60.14L44.98 62.02L45.6 65.15L46.86 67.03L48.73 67.65L49.99 67.65L51.86 67.03L53.12 65.15L53.74 62.02L53.74 60.14L53.12 57.01L51.86 55.13L49.99 54.51L48.73 54.51M58.75 66.4L58.12 67.03L58.75 67.65L59.38 67.03L58.75 66.4M66.89 54.51L65.01 55.13L64.38 56.38L64.38 57.64L65.01 58.89L66.26 59.51L68.77 60.14L70.64 60.77L71.9 62.02L72.52 63.27L72.52 65.15L71.9 66.4L71.27 67.03L69.39 67.65L66.89 67.65L65.01 67.03L64.38 66.4L63.76 65.15L63.76 63.27L64.38 62.02L65.64 60.77L67.51 60.14L70.02 59.51L71.27 58.89L71.9 57.64L71.9 56.38L71.27 55.13L69.39 54.51L66.89 54.51M229.9 313.98V327 M225 313.98H234.2M251.67 311.5L250.43 312.74L249.19 314.6L247.95 317.08L247.33 320.18L247.33 322.66L247.95 325.76L249.19 328.24L250.43 330.1L251.67 331.34M256.05 327V313.98L261.58 327L267.1 313.98V327M270.46 322.04L277.9 322.04L277.9 320.8L277.28 319.56L276.66 318.94L275.42 318.32L273.56 318.32L272.32 318.94L271.08 320.18L270.46 322.04L270.46 323.28L271.08 325.14L272.32 326.38L273.56 327L275.42 327L276.66 326.38L277.9 325.14M280.22 313.98L285.18 327M290.14 313.98L285.18 327M292.36 311.5L293.6 312.74L294.84 314.6L296.08 317.08L296.7 320.18L296.7 322.66L296.08 325.76L294.84 328.24L293.6 330.1L292.36 331.34M9.01 231.49L22.2 231.49M10.89 231.49L9.64 230.23L9.01 228.98L9.01 227.09L9.64 225.84L10.89 224.58L12.78 223.95L14.03 223.95L15.92 224.58L17.17 225.84L17.8 227.09L17.8 228.98L17.17 230.23L15.92 231.49M2.1 215.16L3.36 216.42L5.24 217.67L7.75 218.93L10.89 219.56L13.4 219.56L16.54 218.93L19.06 217.67L20.94 216.42L22.2 215.16M4.61 208.25L17.8 208.25M4.61 212.65L4.61 203.86M2.1 201.34L3.36 200.09L5.24 198.83L7.75 197.58L10.89 196.95L13.4 196.95L16.54 197.58L19.06 198.83L20.94 200.09L22.2 201.34M9.2 175.9L17.8 183.5M9.2 183.5L17.8 175.9M7.12 161.4L6.5 160.15L4.61 158.26L17.8 158.26M4.61 146.96L5.24 148.84L7.12 150.1L10.26 150.73L12.15 150.73L15.29 150.1L17.17 148.84L17.8 146.96L17.8 145.7L17.17 143.82L15.29 142.56L12.15 141.94L10.26 141.94L7.12 142.56L5.24 143.82L4.61 145.7L4.61 146.96M8.51 138.54L8.51 131.76M3.98 128.37L3.98 124.23L7 126.49L7 125.36L7.38 124.6L7.75 124.23L8.88 123.85L9.64 123.85L10.77 124.23L11.52 124.98L11.9 126.11L11.9 127.24L11.52 128.37L11.14 128.75L10.39 129.12M2.1 105.76L3.36 107.02L5.24 108.27L7.75 109.53L10.89 110.16L13.4 110.16L16.54 109.53L19.06 108.27L20.94 107.02L22.2 105.76M7.75 92.57L6.5 93.2L5.24 94.46L4.61 95.71L4.61 98.23L5.24 99.48L6.5 100.74L7.75 101.37L9.64 101.99L12.78 101.99L14.66 101.37L15.92 100.74L17.17 99.48L17.8 98.23L17.8 95.71L17.17 94.46L15.92 93.2L14.66 92.57L12.78 92.57M12.78 95.71L12.78 92.57M12.78 88.81L12.78 81.27L11.52 81.27L10.26 81.9L9.64 82.53L9.01 83.78L9.01 85.67L9.64 86.92L10.89 88.18L12.78 88.81L14.03 88.81L15.92 88.18L17.17 86.92L17.8 85.67L17.8 83.78L17.17 82.53L15.92 81.27M4.61 78.76L17.8 73.73M4.61 68.71L17.8 73.73M3.98 63.18L9.26 66.95L9.26 61.3M3.98 63.18L11.9 63.18M2.1 58.66L3.36 57.41L5.24 56.15L7.75 54.89L10.89 54.27L13.4 54.27L16.54 54.89L19.06 56.15L20.94 57.41L22.2 58.66" fill="none" stroke="#000" stroke-width="1.55" stroke-linejoin="round" stroke-linecap="butt"/>
</svg>
</body></html>
